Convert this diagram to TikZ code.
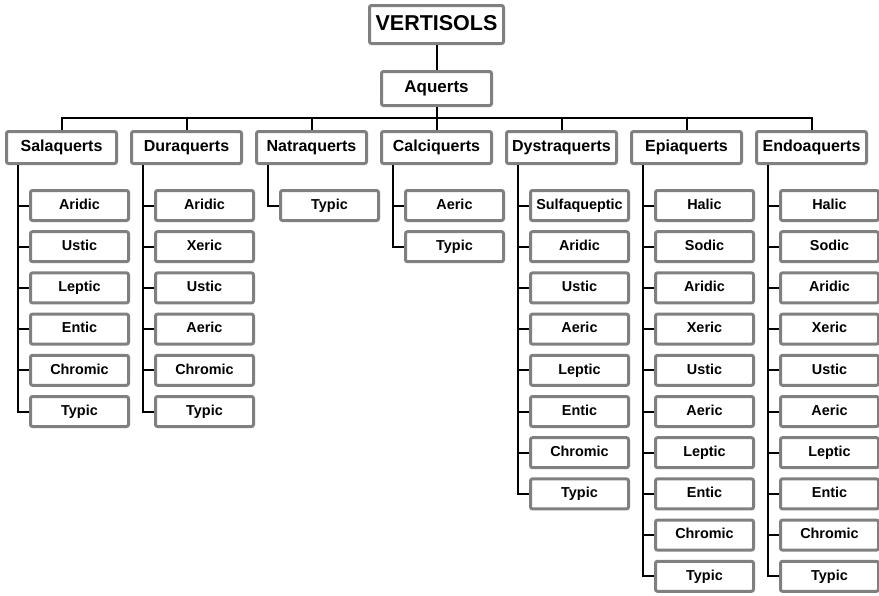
\documentclass[tikz,border=0pt]{standalone}
\usepackage{fontspec}
\setmainfont{Liberation Sans}
\usetikzlibrary{positioning}
\definecolor{soilEdge}{HTML}{808080}
\definecolor{soilLine}{HTML}{000000}
\tikzset{
  box/.style={
    rectangle,
    rounded corners=2pt,
    draw=soilEdge,
    line width=3pt,
    fill=white,
    align=center,
    inner sep=0pt
  },
  orderbox/.style={box, minimum width=134pt, minimum height=38pt,
    text height=15.5pt, text depth=4.3pt,
    font=\fontsize{21.5}{24}\selectfont\bfseries},
  suborderbox/.style={box, minimum width=110pt, minimum height=34pt,
    text height=12.2pt, text depth=3.4pt,
    font=\fontsize{17}{19}\selectfont\bfseries},
  groupbox/.style={box, minimum width=110pt, minimum height=32pt,
    text height=11.5pt, text depth=3.2pt,
    font=\fontsize{16}{18}\selectfont\bfseries},
  subgroupbox/.style={box, minimum width=98pt, minimum height=30pt,
    text height=10.4pt, text depth=2.9pt,
    font=\fontsize{14.4}{16}\selectfont\bfseries},
  link/.style={draw=soilLine, line width=2pt},
  barlink/.style={link, line cap=rect}
}
\begin{document}
\begin{tikzpicture}[x=1pt, y=-1pt]
  \useasboundingbox (0,0) rectangle (879,595);
  \node[orderbox] (vert) at (436.5,24.5) {VERTISOLS};
  \node[suborderbox, below=25pt of vert] (aq) {Aquerts};
  \coordinate (bar) at (436.5,118);
  \draw[link] (vert) -- (aq);
  \draw[link] (aq) -- (bar);
  % great groups and their subgroups
  \foreach \g/\gx/\gname/\leaves in {
      sal/61.5/Salaquerts/{Aridic,Ustic,Leptic,Entic,Chromic,Typic},
      dur/186.5/Duraquerts/{Aridic,Xeric,Ustic,Aeric,Chromic,Typic},
      nat/311.5/Natraquerts/{Typic},
      cal/436.5/Calciquerts/{Aeric,Typic},
      dys/561.5/Dystraquerts/{Sulfaqueptic,Aridic,Ustic,Aeric,Leptic,Entic,Chromic,Typic},
      epi/686.5/Epiaquerts/{Halic,Sodic,Aridic,Xeric,Ustic,Aeric,Leptic,Entic,Chromic,Typic},
      endo/811.5/Endoaquerts/{Halic,Sodic,Aridic,Xeric,Ustic,Aeric,Leptic,Entic,Chromic,Typic}}{
    \node[groupbox] (\g) at (\gx,147.5) {\gname};
    \coordinate (\g0) at ([xshift=13pt]\g.south west);
    \draw[link] (\g.north) -- (\g.north |- bar);
    \foreach \l [count=\i, remember=\i as \j (initially 0)] in \leaves {
      \node[subgroupbox] (\g\i) at ({\gx+18},{205.5+41.2*(\i-1)}) {\l};
      \draw[link] (\g0 |- \g\j) |- (\g\i.west);
    }
  }
  \draw[barlink] (sal.north |- bar) -- (endo.north |- bar);
\end{tikzpicture}
\end{document}
